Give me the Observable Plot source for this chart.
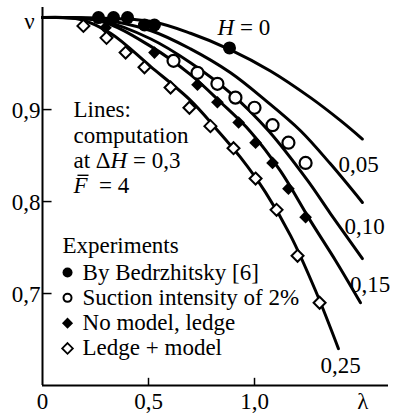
<!DOCTYPE html>
<html>
<head>
<meta charset="utf-8">
<script src="https://cdn.jsdelivr.net/npm/d3@7"></script>
<script src="https://cdn.jsdelivr.net/npm/@observablehq/plot@0.6"></script>
<style>
  html, body { margin: 0; padding: 0; background: #fff; }
  svg { display: block; }
</style>
</head>
<body>
<div id="chart"></div>
<script>
// ---- axes / ticks ----
const xTicks = [0, 0.5, 1.0];
const xTickLabels = ["0", "0,5", "1,0"];
const yTicks = [0.9, 0.8, 0.7];
const yTickLabels = ["0,9", "0,8", "0,7"];

// ---- computed lines (λ, ν) ----
const curveNames = ["H = 0", "0,05", "0,10", "0,15", "0,25"];
const lambdaH000 = [0, 0.274, 0.509, 0.698, 0.887, 1.075, 1.264, 1.406, 1.509];
const nuH000     = [1.0, 0.9995, 0.996, 0.983, 0.965, 0.942, 0.913, 0.888, 0.868];
const lambdaH005 = [0, 0.274, 0.509, 0.698, 0.887, 1.052, 1.217, 1.358, 1.509];
const nuH005     = [1.0, 0.998, 0.986, 0.966, 0.940, 0.910, 0.877, 0.841, 0.799];
const lambdaH010 = [0, 0.274, 0.509, 0.698, 0.887, 1.066, 1.250, 1.358, 1.509];
const nuH010     = [1.0, 0.997, 0.977, 0.951, 0.918, 0.877, 0.823, 0.787, 0.738];
const lambdaH015 = [0, 0.274, 0.509, 0.698, 0.840, 0.981, 1.123, 1.264, 1.382, 1.500];
const nuH015     = [1.0, 0.996, 0.969, 0.938, 0.908, 0.876, 0.833, 0.779, 0.736, 0.690];
const lambdaH025 = [0, 0.179, 0.321, 0.509, 0.698, 0.816, 0.934, 1.052, 1.170, 1.288, 1.396];
const nuH025     = [1.0, 0.998, 0.983, 0.947, 0.910, 0.880, 0.848, 0.810, 0.763, 0.703, 0.640];

// ---- experiments (λ, ν) ----
const bedrzhitskyLambda = [0.264, 0.335, 0.401, 0.481, 0.528, 0.882];
const bedrzhitskyNu     = [1.000, 1.000, 1.000, 0.992, 0.992, 0.967];
const suctionLambda = [0.618, 0.731, 0.825, 0.910, 1.000, 1.085, 1.160, 1.241];
const suctionNu     = [0.953, 0.940, 0.928, 0.913, 0.902, 0.883, 0.864, 0.842];
const noModelLambda = [0.297, 0.528, 0.731, 0.825, 0.925, 1.005, 1.085, 1.160, 1.241];
const noModelNu     = [0.989, 0.962, 0.927, 0.908, 0.886, 0.864, 0.842, 0.814, 0.783];
const ledgeModelLambda = [0.193, 0.302, 0.392, 0.481, 0.604, 0.693, 0.792, 0.901, 1.005, 1.104, 1.203, 1.307];
const ledgeModelNu     = [0.991, 0.978, 0.962, 0.946, 0.924, 0.902, 0.882, 0.858, 0.825, 0.791, 0.741, 0.690];

// ---- texts ----
const legendTitle = "Experiments";
const legendLabels = ["By Bedrzhitsky [6]", "Suction intensity of 2%", "No model, ledge", "Ledge + model"];
const noteText = "Lines:\ncomputation\nat ΔH = 0,3\nF\u00a0 = 4";
const yLabel = "ν";
const xLabel = "λ";

const xDomain = [0, 1.632];
const yDomain = [0.6, 1.011];

const pts = (lam, nu) => lam.map((x, i) => ({x, y: nu[i]}));
const curves = [
  pts(lambdaH000, nuH000), pts(lambdaH005, nuH005), pts(lambdaH010, nuH010),
  pts(lambdaH015, nuH015), pts(lambdaH025, nuH025)
];
const bedr = pts(bedrzhitskyLambda, bedrzhitskyNu);
const suct = pts(suctionLambda, suctionNu);
const nomo = pts(noModelLambda, noModelNu);
const ledg = pts(ledgeModelLambda, ledgeModelNu);

const FS = 23;
const FONT = "Liberation Serif";
const black = "#000";
const T = {fontSize: FS, fontFamily: FONT, fill: black, lineAnchor: "bottom"};

// legend layout (data units)
const legTitleNu = 0.7446, legFirstNu = 0.7152, legStep = 0.02751;
const legRows = legendLabels.map((t, i) => ({t, i, y: legFirstNu - i * legStep}));

// curve label anchors (data units)
const curveLabelPos = [
  {t: "H = 0", x: 0.950, y: 0.9806},
  {t: "0,05", x: 1.491, y: 0.8316},
  {t: "0,10", x: 1.519, y: 0.7642},
  {t: "0,15", x: 1.545, y: 0.7022},
  {t: "0,25", x: 1.406, y: 0.6141}
];

const marks = [
  // axes
  Plot.ruleY([yDomain[0]], {stroke: black, strokeWidth: 2}),
  Plot.ruleX([0], {stroke: black, strokeWidth: 2}),
  Plot.ruleX(xTicks.slice(1), {x: d => d, y1: yDomain[0], y2: yDomain[0] + 0.0078, stroke: black, strokeWidth: 1.5}),
  Plot.ruleY(yTicks, {y: d => d, x1: 0, x2: 0.045, stroke: black, strokeWidth: 1.5}),
  Plot.text(xTicks, {...T, x: d => d, y: yDomain[0], text: (d, i) => xTickLabels[i], dy: 23}),
  Plot.text(yTicks, {...T, x: 0, y: d => d, text: (d, i) => yTickLabels[i], textAnchor: "end", dx: -2, dy: 8}),
  Plot.text([yLabel], {...T, x: 0, y: yDomain[1], text: d => d, dx: -13, dy: 21}),
  Plot.text([xLabel], {...T, frameAnchor: "bottom-right", text: d => d, dx: -20, dy: 23}),
  // computed lines
  ...curves.map(c => Plot.line(c, {x: "x", y: "y", curve: "catmull-rom", stroke: black, strokeWidth: 3})),
  // experiments
  Plot.dot(bedr, {x: "x", y: "y", r: 6.5, fill: black}),
  Plot.dot(suct, {x: "x", y: "y", r: 6, fill: "#fff", stroke: black, strokeWidth: 2.2}),
  Plot.dot(nomo, {x: "x", y: "y", symbol: "diamond2", r: 5.7, fill: black}),
  Plot.dot(ledg, {x: "x", y: "y", symbol: "diamond2", r: 5.4, fill: "#fff", stroke: black, strokeWidth: 2}),
  // curve labels
  Plot.text(curveLabelPos, {...T, x: "x", y: "y", text: "t"}),
  // note
  Plot.text([noteText], {...T, x: 0.146, y: 0.8088, text: d => d, textAnchor: "start", lineHeight: 1.101}),
  // legend
  Plot.text([legendTitle], {...T, x: 0.094, y: legTitleNu, text: d => d, textAnchor: "start"}),
  Plot.text(legRows, {...T, x: 0.189, y: "y", text: "t", textAnchor: "start"}),
  Plot.dot(legRows.filter(d => d.i === 0), {x: 0.118, y: "y", dy: -7, r: 5, fill: black}),
  Plot.dot(legRows.filter(d => d.i === 1), {x: 0.118, y: "y", dy: -7, r: 4, fill: "#fff", stroke: black, strokeWidth: 2}),
  Plot.dot(legRows.filter(d => d.i === 2), {x: 0.118, y: "y", dy: -7, symbol: "diamond2", r: 5, fill: black}),
  Plot.dot(legRows.filter(d => d.i === 3), {x: 0.118, y: "y", dy: -7, symbol: "diamond2", r: 4.8, fill: "#fff", stroke: black, strokeWidth: 1.8})
];

const svg = Plot.plot({
  width: 395, height: 415,
  marginLeft: 42, marginRight: 7, marginTop: 7, marginBottom: 30,
  x: {domain: xDomain, axis: null},
  y: {domain: yDomain, axis: null},
  style: {fontFamily: "'Liberation Serif', serif", fontSize: "23px", color: "#000", background: "#fff", overflow: "visible"},
  marks
});

// italic styling inside text
let fText = null;
svg.querySelectorAll("text, tspan").forEach(el => {
  if (el.childElementCount) return;
  const s = el.textContent;
  if (s === "H = 0") el.innerHTML = '<tspan font-style="italic">H</tspan> = 0';
  else if (s === "at ΔH = 0,3") el.innerHTML = 'at Δ<tspan font-style="italic">H</tspan> = 0,3';
  else if (s === "F\u00a0 = 4") {
    el.innerHTML = '<tspan font-style="italic">F</tspan>\u00a0 = 4';
    fText = el.closest("text");
  }
});

document.getElementById("chart").appendChild(svg);

// overbar over F (placed from the rendered glyph)
if (fText) {
  const idx = fText.textContent.indexOf("F");
  const ext = fText.getExtentOfChar(idx);
  const start = fText.getStartPositionOfChar(idx);
  const bar = document.createElementNS("http://www.w3.org/2000/svg", "line");
  bar.setAttribute("x1", ext.x + 4);
  bar.setAttribute("x2", ext.x + ext.width + 1);
  const yb = start.y - 0.66 * FS - 3;
  bar.setAttribute("y1", yb);
  bar.setAttribute("y2", yb);
  bar.setAttribute("stroke", black);
  bar.setAttribute("stroke-width", 1.4);
  const tr = fText.getAttribute("transform");
  if (tr) bar.setAttribute("transform", tr);
  fText.parentNode.appendChild(bar);
}
</script>
</body>
</html>
